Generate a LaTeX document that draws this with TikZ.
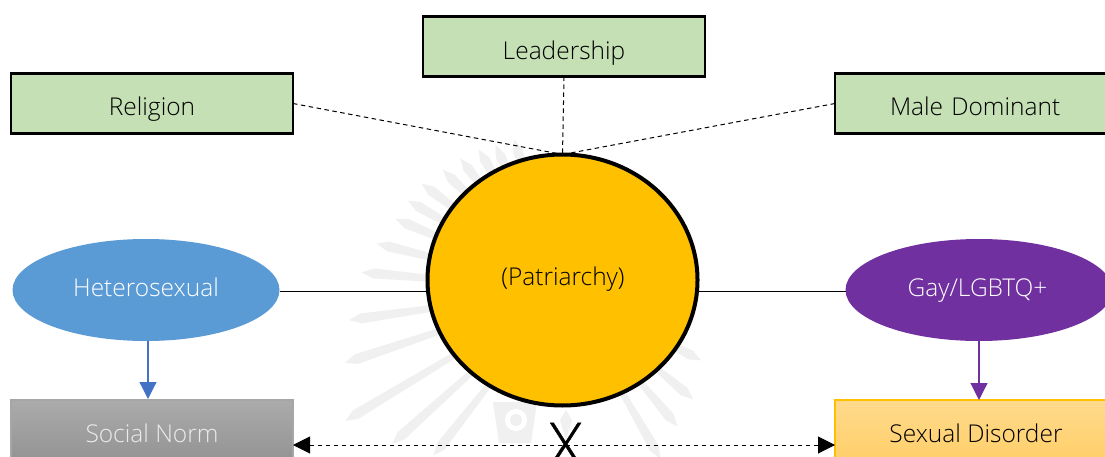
\documentclass[tikz,border=0pt]{standalone}
\usepackage{fontspec}
\setmainfont{Open Sans Light}
\usetikzlibrary{arrows.meta,calc,shapes.geometric}
\definecolor{boxgreen}{HTML}{C5E0B4}
\definecolor{hetblue}{HTML}{5B9BD5}
\definecolor{linkblue}{HTML}{4472C4}
\definecolor{gaypurple}{HTML}{7030A0}
\definecolor{sunamber}{HTML}{FFC000}
\definecolor{faint}{HTML}{F0F0F0}
\tikzset{
  x=1pt,y=-1pt,
  every node/.style={font=\fontsize{24.5}{27}\selectfont,inner sep=0pt,outer sep=0pt},
  greenbox/.style={draw=black,line width=2.4pt,fill=boxgreen,minimum width=282pt,minimum height=60pt},
  lowbox/.style={minimum width=282pt,minimum height=66pt,line width=1.6pt,text height=18pt,text depth=0pt},
  oval/.style={ellipse,minimum width=267pt,minimum height=102pt,text=white},
  dashlink/.style={black,line width=1pt,dash pattern=on 4.5pt off 3.5pt},
  tielink/.style={black,line width=1pt},
  downlink/.style={line width=1.2pt,-{Triangle[length=17pt,width=17pt]}},
  bothlink/.style={dashlink,{Triangle[length=17pt,width=17pt]}-{Triangle[length=17pt,width=17pt]}},
  wray/.style={fill=faint,draw=none},
}
\begin{document}
\begin{tikzpicture}
\clip (0,0) rectangle (1105,457);
\fill[white] (0,0) rectangle (1105,457);
% faint watermark behind the diagram
\foreach \a/\r in {108/158,115/160,121/164,128/167,135/170,143/177,150/179,157/182,166/192,175/202,188/216,198.5/230,211/254,222/230,232/210,
   -27/155,-40/170,-50/178,-60/195}{
  \fill[wray,shift={(563,290)},rotate=\a] (120,3) -- (\r-12,5) -- (\r,0) -- (\r-12,-5) -- (120,-3) -- cycle;
}
\fill[faint] (493,402) -- (537,402) -- (531,443) -- (499,443) -- cycle;
\fill[white] (516,420) circle (11);
\fill[faint] (516,420) circle (6);
\fill[faint] (566,410) -- (572,420) -- (566,440) -- (560,420) -- cycle;

\node[greenbox,text height=25pt,text depth=0pt] (religion) at (152,103.5) {Religion};
\node[greenbox,text height=27pt,text depth=0pt] (leader) at (564,46.5) {Leadership};
\node[greenbox,text width=270pt,align=left,text height=25pt,text depth=0pt] (male) at (976,103.5) {\hspace*{49pt}Male Dominant};
\node[ellipse,draw=black,line width=4pt,fill=sunamber,minimum width=270pt,minimum height=251pt] (patri) at (562.5,280) {};
\node[text=black,text height=16pt,text depth=0pt] (patritext) at (563,277) {(Patriarchy)};
\node[oval,fill=hetblue,text height=12pt,text depth=0pt] (het) at (146,290) {Heterosexual};
\node[oval,fill=gaypurple,text height=13pt,text depth=0pt] (gay) at (979,290) {\hspace*{-3pt}Gay/LGBTQ+};
\node[lowbox,draw=black!35,top color=black!33,bottom color=black!43,text=white!92!black] (social) at (152,433) {Social Norm};
\node[lowbox,draw=sunamber,top color=orange!30!sunamber!45,bottom color=orange!30!sunamber!60,text=black] (sexual) at (976,433) {Sexual Disorder};
\coordinate (crossmid) at (565.5,445);

\draw[dashlink] (religion.east) -- (patri.north);
\draw[dashlink] (leader.south) -- (patri.north);
\draw[dashlink] (male.west) -- (patri.north);
\draw[tielink] (het.east |- 0,291) -- (patri.west |- 0,291);
\draw[tielink] (patri.east |- 0,291) -- (gay.west |- 0,291);
\draw[downlink,linkblue] (148,341) -- (148,399);
\draw[downlink,gaypurple] (gay.south) -- (gay.south |- sexual.north);
\draw[bothlink] (social.east |- crossmid) -- (sexual.west |- crossmid);
\node[font=\fontsize{62}{62}\selectfont,text=black] (cross) at (crossmid) {\addfontfeature{FakeBold=0.6}X};
\end{tikzpicture}
\end{document}
